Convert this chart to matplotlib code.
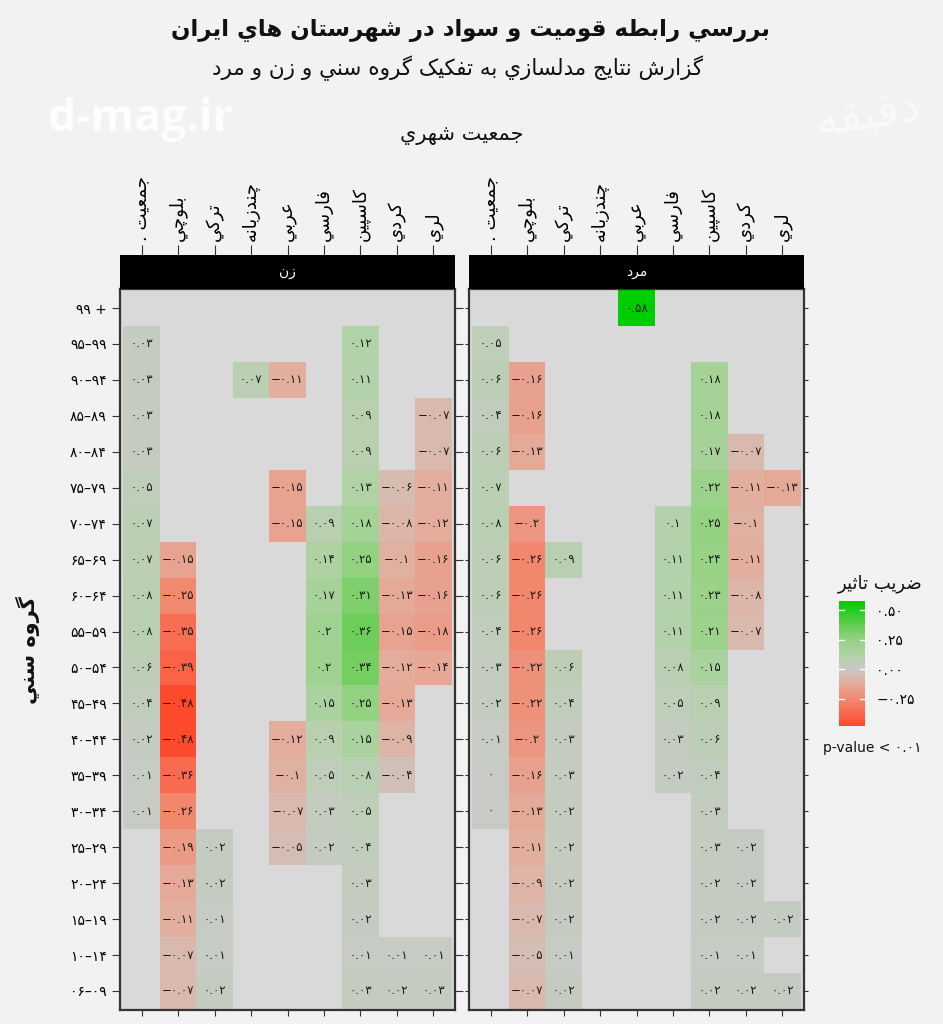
import numpy as np
import matplotlib.pyplot as plt
from matplotlib.colors import LinearSegmentedColormap, Normalize

plt.rcParams['font.family'] = ['DejaVu Sans']

# ---- data ----
zaban = ['جمعيت .', 'بلوچي', 'ترکي', 'چندزبانه', 'عربي', 'فارسي', 'کاسپين', 'کردي', 'لري']
sen = ['99 +', '95–99', '90–94', '85–89', '80–84', '75–79', '70–74', '65–69', '60–64',
       '55–59', '50–54', '45–49', '40–44', '35–39', '30–34', '25–29', '20–24',
       '15–19', '10–14', '06–09']
n = np.nan
# ستونها به ترتيب zaban ، رديفها به ترتيب sen
zan = [
    [n, n, n, n, n, n, n, n, n],
    [0.03, n, n, n, n, n, 0.12, n, n],
    [0.03, n, n, 0.07, -0.11, n, 0.11, n, n],
    [0.03, n, n, n, n, n, 0.09, n, -0.07],
    [0.03, n, n, n, n, n, 0.09, n, -0.07],
    [0.05, n, n, n, -0.15, n, 0.13, -0.06, -0.11],
    [0.07, n, n, n, -0.15, 0.09, 0.18, -0.08, -0.12],
    [0.07, -0.15, n, n, n, 0.14, 0.25, -0.1, -0.16],
    [0.08, -0.25, n, n, n, 0.17, 0.31, -0.13, -0.16],
    [0.08, -0.35, n, n, n, 0.2, 0.36, -0.15, -0.18],
    [0.06, -0.39, n, n, n, 0.2, 0.34, -0.12, -0.14],
    [0.04, -0.48, n, n, n, 0.15, 0.25, -0.13, n],
    [0.02, -0.48, n, n, -0.12, 0.09, 0.15, -0.09, n],
    [0.01, -0.36, n, n, -0.1, 0.05, 0.08, -0.04, n],
    [0.01, -0.26, n, n, -0.07, 0.03, 0.05, n, n],
    [n, -0.19, 0.02, n, -0.05, 0.02, 0.04, n, n],
    [n, -0.13, 0.02, n, n, n, 0.03, n, n],
    [n, -0.11, 0.01, n, n, n, 0.02, n, n],
    [n, -0.07, 0.01, n, n, n, 0.01, 0.01, 0.01],
    [n, -0.07, 0.02, n, n, n, 0.03, 0.02, 0.03],
]
mard = [
    [n, n, n, n, 0.58, n, n, n, n],
    [0.05, n, n, n, n, n, n, n, n],
    [0.06, -0.16, n, n, n, n, 0.18, n, n],
    [0.04, -0.16, n, n, n, n, 0.18, n, n],
    [0.06, -0.13, n, n, n, n, 0.17, -0.07, n],
    [0.07, n, n, n, n, n, 0.22, -0.11, -0.13],
    [0.08, -0.2, n, n, n, 0.1, 0.25, -0.1, n],
    [0.06, -0.26, 0.09, n, n, 0.11, 0.24, -0.11, n],
    [0.06, -0.26, n, n, n, 0.11, 0.23, -0.08, n],
    [0.04, -0.26, n, n, n, 0.11, 0.21, -0.07, n],
    [0.03, -0.22, 0.06, n, n, 0.08, 0.15, n, n],
    [0.02, -0.22, 0.04, n, n, 0.05, 0.09, n, n],
    [0.01, -0.2, 0.03, n, n, 0.03, 0.06, n, n],
    [0.0, -0.16, 0.03, n, n, 0.02, 0.04, n, n],
    [0.0, -0.13, 0.02, n, n, n, 0.03, n, n],
    [n, -0.11, 0.02, n, n, n, 0.03, 0.02, n],
    [n, -0.09, 0.02, n, n, n, 0.02, 0.02, n],
    [n, -0.07, 0.02, n, n, n, 0.02, 0.02, 0.02],
    [n, -0.05, 0.01, n, n, n, 0.01, 0.01, n],
    [n, -0.07, 0.02, n, n, n, 0.02, 0.02, 0.02],
]
legend_ticks = [0.5, 0.25, 0.0, -0.25]
legend_labels = ['0.50', '0.25', '0.00', '-0.25']
lim_min, lim_max = -0.48, 0.58

# ---- شکل دادن حروف فارسي (matplotlib خودش نمي چسباند) ----
FORMS = {
    'ا': (0xFE8D, 0xFE8E), 'آ': (0xFE81, 0xFE82), 'د': (0xFEA9, 0xFEAA),
    'ذ': (0xFEAB, 0xFEAC), 'ر': (0xFEAD, 0xFEAE), 'ز': (0xFEAF, 0xFEB0),
    'ژ': (0xFB8A, 0xFB8B), 'و': (0xFEED, 0xFEEE),
    'ب': (0xFE8F, 0xFE90, 0xFE91, 0xFE92), 'پ': (0xFB56, 0xFB57, 0xFB58, 0xFB59),
    'ت': (0xFE95, 0xFE96, 0xFE97, 0xFE98), 'ث': (0xFE99, 0xFE9A, 0xFE9B, 0xFE9C),
    'ج': (0xFE9D, 0xFE9E, 0xFE9F, 0xFEA0), 'چ': (0xFB7A, 0xFB7B, 0xFB7C, 0xFB7D),
    'ح': (0xFEA1, 0xFEA2, 0xFEA3, 0xFEA4), 'خ': (0xFEA5, 0xFEA6, 0xFEA7, 0xFEA8),
    'س': (0xFEB1, 0xFEB2, 0xFEB3, 0xFEB4), 'ش': (0xFEB5, 0xFEB6, 0xFEB7, 0xFEB8),
    'ص': (0xFEB9, 0xFEBA, 0xFEBB, 0xFEBC), 'ض': (0xFEBD, 0xFEBE, 0xFEBF, 0xFEC0),
    'ط': (0xFEC1, 0xFEC2, 0xFEC3, 0xFEC4), 'ظ': (0xFEC5, 0xFEC6, 0xFEC7, 0xFEC8),
    'ع': (0xFEC9, 0xFECA, 0xFECB, 0xFECC), 'غ': (0xFECD, 0xFECE, 0xFECF, 0xFED0),
    'ف': (0xFED1, 0xFED2, 0xFED3, 0xFED4), 'ق': (0xFED5, 0xFED6, 0xFED7, 0xFED8),
    'ک': (0xFB8E, 0xFB8F, 0xFB90, 0xFB91), 'گ': (0xFB92, 0xFB93, 0xFB94, 0xFB95),
    'ل': (0xFEDD, 0xFEDE, 0xFEDF, 0xFEE0), 'م': (0xFEE1, 0xFEE2, 0xFEE3, 0xFEE4),
    'ن': (0xFEE5, 0xFEE6, 0xFEE7, 0xFEE8), 'ه': (0xFEE9, 0xFEEA, 0xFEEB, 0xFEEC),
    'ي': (0xFEF1, 0xFEF2, 0xFEF3, 0xFEF4), 'ی': (0xFBFC, 0xFBFD, 0xFBFE, 0xFBFF),
}


def fa(text):
    out = []
    for i, ch in enumerate(text):
        f = FORMS.get(ch)
        if f is None:
            out.append(ch)
            continue
        prev = FORMS.get(text[i - 1]) if i > 0 else None
        nxt = text[i + 1] if i + 1 < len(text) else ''
        jp = prev is not None and len(prev) == 4
        jn = len(f) == 4 and nxt in FORMS
        if jp and jn:
            c = f[3]
        elif jp:
            c = f[1]
        elif jn:
            c = f[2]
        else:
            c = f[0]
        out.append(chr(c))
    return ''.join(reversed(out))


DIG = str.maketrans('0123456789-', '۰۱۲۳۴۵۶۷۸۹−')


def num(v):
    s = ('%.2f' % v).rstrip('0').rstrip('.')
    if s in ('-0', ''):
        s = '0'
    return s.translate(DIG)


# ---- رنگها ----
cmap = LinearSegmentedColormap.from_list('zarib', [
    (0.0, '#ff2a0a'), (0.086, '#ff4b2d'), (0.276, '#f2876e'), (0.397, '#e4ac9b'),
    (0.5, '#c8cac6'), (0.603, '#b2d2a8'), (0.716, '#94d282'), (0.81, '#6ecd5a'),
    (1.0, '#00cd00')])
norm = Normalize(-0.58, 0.58)

W, H = 943, 1024
fig = plt.figure(figsize=(W / 100, H / 100), dpi=100, facecolor='#f2f2f2')


def box(x0, y0, x1, y1):
    return [x0 / W, 1 - y1 / H, (x1 - x0) / W, (y1 - y0) / H]


panels = [(zan, 'زن', 120, 455), (mard, 'مرد', 469, 804)]
for k, (vals, name, x0, x1) in enumerate(panels):
    arr = np.ma.masked_invalid(np.array(vals, dtype=float))
    ax = fig.add_axes(box(x0, 289, x1, 1010))
    ax.set_facecolor('#d9d9d9')
    ax.pcolormesh(np.arange(10) - 0.5, np.arange(21) - 0.5, arr, cmap=cmap, norm=norm)
    for r in range(arr.shape[0]):
        for c in range(arr.shape[1]):
            if not np.ma.is_masked(arr[r, c]):
                ax.text(c, r, num(arr[r, c]), ha='center', va='center',
                        fontsize=8.5, color='#1a1a1a')
    ax.set_xlim(-0.59, 8.59)
    ax.set_ylim(19.53, -0.53)
    ax.set_xticks(range(9))
    ax.set_yticks(range(20))
    ax.set_yticklabels([s.translate(DIG) for s in sen], fontsize=10)
    ax.tick_params(axis='x', bottom=True, labelbottom=False, length=4, color='#333333')
    ax.tick_params(axis='y', left=True, right=True, labelleft=(k == 0),
                   length=6 if k == 0 else 3, color='#333333')
    for sp in ax.spines.values():
        sp.set_color('#333333')
        sp.set_linewidth(1.6)

    # نوار عنوان زن / مرد با برچسبهاي ستون بالاي آن
    st = fig.add_axes(box(x0, 255, x1, 289))
    st.set_facecolor('black')
    st.set_xlim(-0.59, 8.59)
    st.set_ylim(0, 1)
    st.set_yticks([])
    st.set_xticks(range(9))
    st.set_xticklabels([fa(z) for z in zaban], rotation=90, fontsize=13)
    st.tick_params(axis='x', top=True, bottom=False, labeltop=True, labelbottom=False,
                   length=7, color='#333333', pad=3)
    for sp in st.spines.values():
        sp.set_visible(False)
    st.text(4, 0.5, fa(name), ha='center', va='center', color='white', fontsize=10)

# ---- عنوانها ----
fig.text(470 / W, 1 - 30 / H, fa('بررسي رابطه قوميت و سواد در شهرستان هاي ايران'),
         ha='center', va='center', fontsize=16.5, fontweight='bold', color='#111111')
fig.text(458 / W, 1 - 68 / H, fa('گزارش نتايج مدلسازي به تفکيک گروه سني و زن و مرد'),
         ha='center', va='center', fontsize=15.5, color='#111111')
fig.text(462 / W, 1 - 135 / H, fa('جمعيت شهري'), ha='center', va='center',
         fontsize=15, color='#111111')
fig.text(28 / W, 1 - 650 / H, fa('گروه سني'), ha='center', va='center', rotation=90,
         fontsize=15, fontweight='bold', color='#111111')

# واترمارک
fig.text(140 / W, 1 - 120 / H, 'd-mag.ir', ha='center', va='center', fontsize=32,
         fontweight='bold', family='Open Sans', color='white', alpha=0.85)
fig.text(868 / W, 1 - 115 / H, fa('دقيقه'), ha='center', va='center', fontsize=34,
         color='white', alpha=0.55, rotation=8)

# ---- راهنماي رنگ ----
fig.text(880 / W, 1 - 584 / H, fa('ضريب تاثير'), ha='center', va='center',
         fontsize=13, color='#111111')
cax = fig.add_axes(box(839, 601, 865, 726))
grad = np.linspace(lim_max, lim_min, 200)[:, None]
cax.imshow(grad, cmap=cmap, norm=norm, aspect='auto',
           extent=[0, 1, lim_min, lim_max])
cax.set_xlim(0, 1)
cax.set_ylim(lim_min, lim_max)
cax.set_xticks([])
cax.set_yticks(legend_ticks)
cax.set_yticklabels([s.translate(DIG) for s in legend_labels], fontsize=10)
cax.yaxis.tick_right()
cax.tick_params(axis='y', length=0, pad=8)
for t in legend_ticks:
    cax.plot([0, 0.2], [t, t], color='white', lw=1)
    cax.plot([0.8, 1], [t, t], color='white', lw=1)
for sp in cax.spines.values():
    sp.set_visible(False)
fig.text(872 / W, 1 - 748 / H, 'p-value < ' + '0.01'.translate(DIG), ha='center',
         va='center', fontsize=10, color='#111111')

fig.savefig('out.png', dpi=100, facecolor=fig.get_facecolor())
